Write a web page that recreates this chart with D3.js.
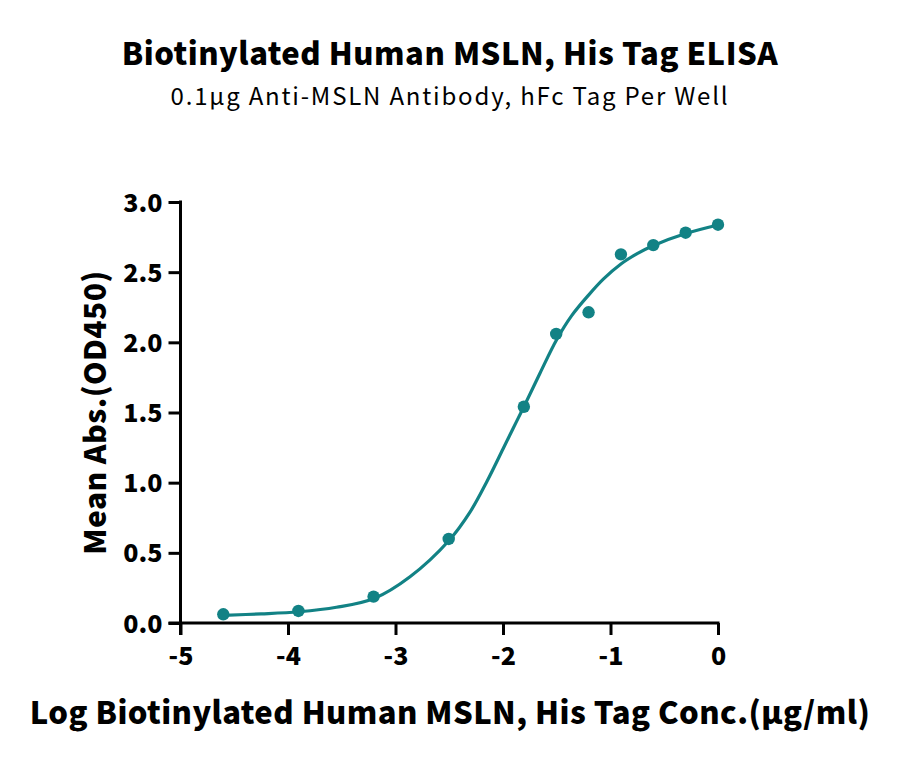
<!DOCTYPE html>
<html><head><meta charset="utf-8">
<script src="https://cdn.jsdelivr.net/npm/d3@7"></script>
<style>body{margin:0;background:#fff}svg{display:block}text{font-family:"Noto Sans CJK SC","Noto Sans",sans-serif}</style>
</head><body><svg id="c" width="900" height="764"></svg>
<script>
const title = "Biotinylated Human MSLN, His Tag ELISA";
const subtitle = "0.1\u00b5g Anti-MSLN Antibody, hFc Tag Per Well";
const xLabel = "Log Biotinylated Human MSLN, His Tag Conc.(\u00b5g/ml)";
const yLabel = "Mean Abs.(OD450)";
const xTicks = [-5, -4, -3, -2, -1, 0];
const yTicks = [0, 0.5, 1.0, 1.5, 2.0, 2.5, 3.0];
// measured points
const logConc = [-4.602, -3.903, -3.204, -2.505, -1.806, -1.505, -1.204, -0.903, -0.602, -0.301, 0];
const meanAbs = [0.062, 0.086, 0.188, 0.599, 1.541, 2.06, 2.214, 2.627, 2.693, 2.781, 2.838];
// fitted curve
const fitX = [-4.6, -4.25, -3.9, -3.55, -3.2, -2.865, -2.5, -2.307, -2.152, -2.0, -1.904, -1.8, -1.656, -1.5, -1.361, -1.2, -1.067, -0.9, -0.756, -0.6, -0.3, 0];
const fitY = [0.055, 0.065, 0.080, 0.112, 0.175, 0.330, 0.590, 0.790, 1.005, 1.240, 1.390, 1.550, 1.780, 2.020, 2.190, 2.340, 2.450, 2.560, 2.630, 2.690, 2.775, 2.836];

const color = "#128285";
const svg = d3.select("#c");
const x = d3.scaleLinear().domain([-5, 0]).range([180.5, 718]);
const y = d3.scaleLinear().domain([0, 3]).range([623, 202]);

function fit(sel, target) {
  const node = sel.node();
  const n = node.getNumberOfChars();
  const len = node.getComputedTextLength();
  sel.attr("letter-spacing", ((target - len) / Math.max(1, n - 1)).toFixed(2));
  return sel;
}

fit(svg.append("text").attr("x", 450).attr("y", 65).attr("text-anchor", "middle")
  .attr("font-size", 31).attr("font-weight", 900).text(title), 656);
fit(svg.append("text").attr("x", 450).attr("y", 105).attr("text-anchor", "middle")
  .attr("font-size", 24).attr("font-weight", 400).text(subtitle), 557);

const fmt = d => (d < 0 ? "-" + Math.abs(d) : String(d));
const xa = svg.append("g").attr("transform", "translate(0,623)")
  .call(d3.axisBottom(x).tickValues(xTicks).tickSize(12).tickPadding(10).tickFormat(fmt));
const ya = svg.append("g").attr("transform", "translate(180.5,0)")
  .call(d3.axisLeft(y).tickValues(yTicks).tickSize(12).tickPadding(6).tickFormat(d3.format(".1f")));
[xa, ya].forEach(a => {
  a.select(".domain").remove();
  a.selectAll(".tick line").attr("stroke", "#000").attr("stroke-width", 3);
  a.selectAll(".tick text").attr("font-size", 25).attr("font-weight", 900).attr("fill", "#000")
    .style("font-family", '"Noto Sans CJK SC","Noto Sans",sans-serif');
});
ya.selectAll(".tick text").attr("dy", "0.36em");
xa.selectAll(".tick text").attr("dy", "0.8em");
// axis lines
svg.append("line").attr("x1", x(-5) - 12).attr("x2", x(0) + 1.5).attr("y1", y(0)).attr("y2", y(0))
  .attr("stroke", "#000").attr("stroke-width", 3);
svg.append("line").attr("x1", x(-5)).attr("x2", x(-5)).attr("y1", y(3) - 1.5).attr("y2", y(0) + 12)
  .attr("stroke", "#000").attr("stroke-width", 3);

fit(svg.append("text").attr("transform", `translate(106,${(y(0)+y(3))/2}) rotate(-90)`)
  .attr("text-anchor", "middle").attr("font-size", 30).attr("font-weight", 900).text(yLabel), 284);
fit(svg.append("text").attr("x", 450).attr("y", 724).attr("text-anchor", "middle")
  .attr("font-size", 31).attr("font-weight", 900).text(xLabel), 840);

const line = d3.line().x(d => x(d[0])).y(d => y(d[1])).curve(d3.curveCatmullRom.alpha(0.5));
svg.append("path").datum(fitX.map((v, i) => [v, fitY[i]])).attr("d", line)
  .attr("fill", "none").attr("stroke", color).attr("stroke-width", 3.2);
svg.selectAll("circle.pt").data(logConc.map((v, i) => [v, meanAbs[i]])).enter().append("circle")
  .attr("class", "pt").attr("cx", d => x(d[0])).attr("cy", d => y(d[1])).attr("r", 6.2).attr("fill", color);
</script></body></html>
